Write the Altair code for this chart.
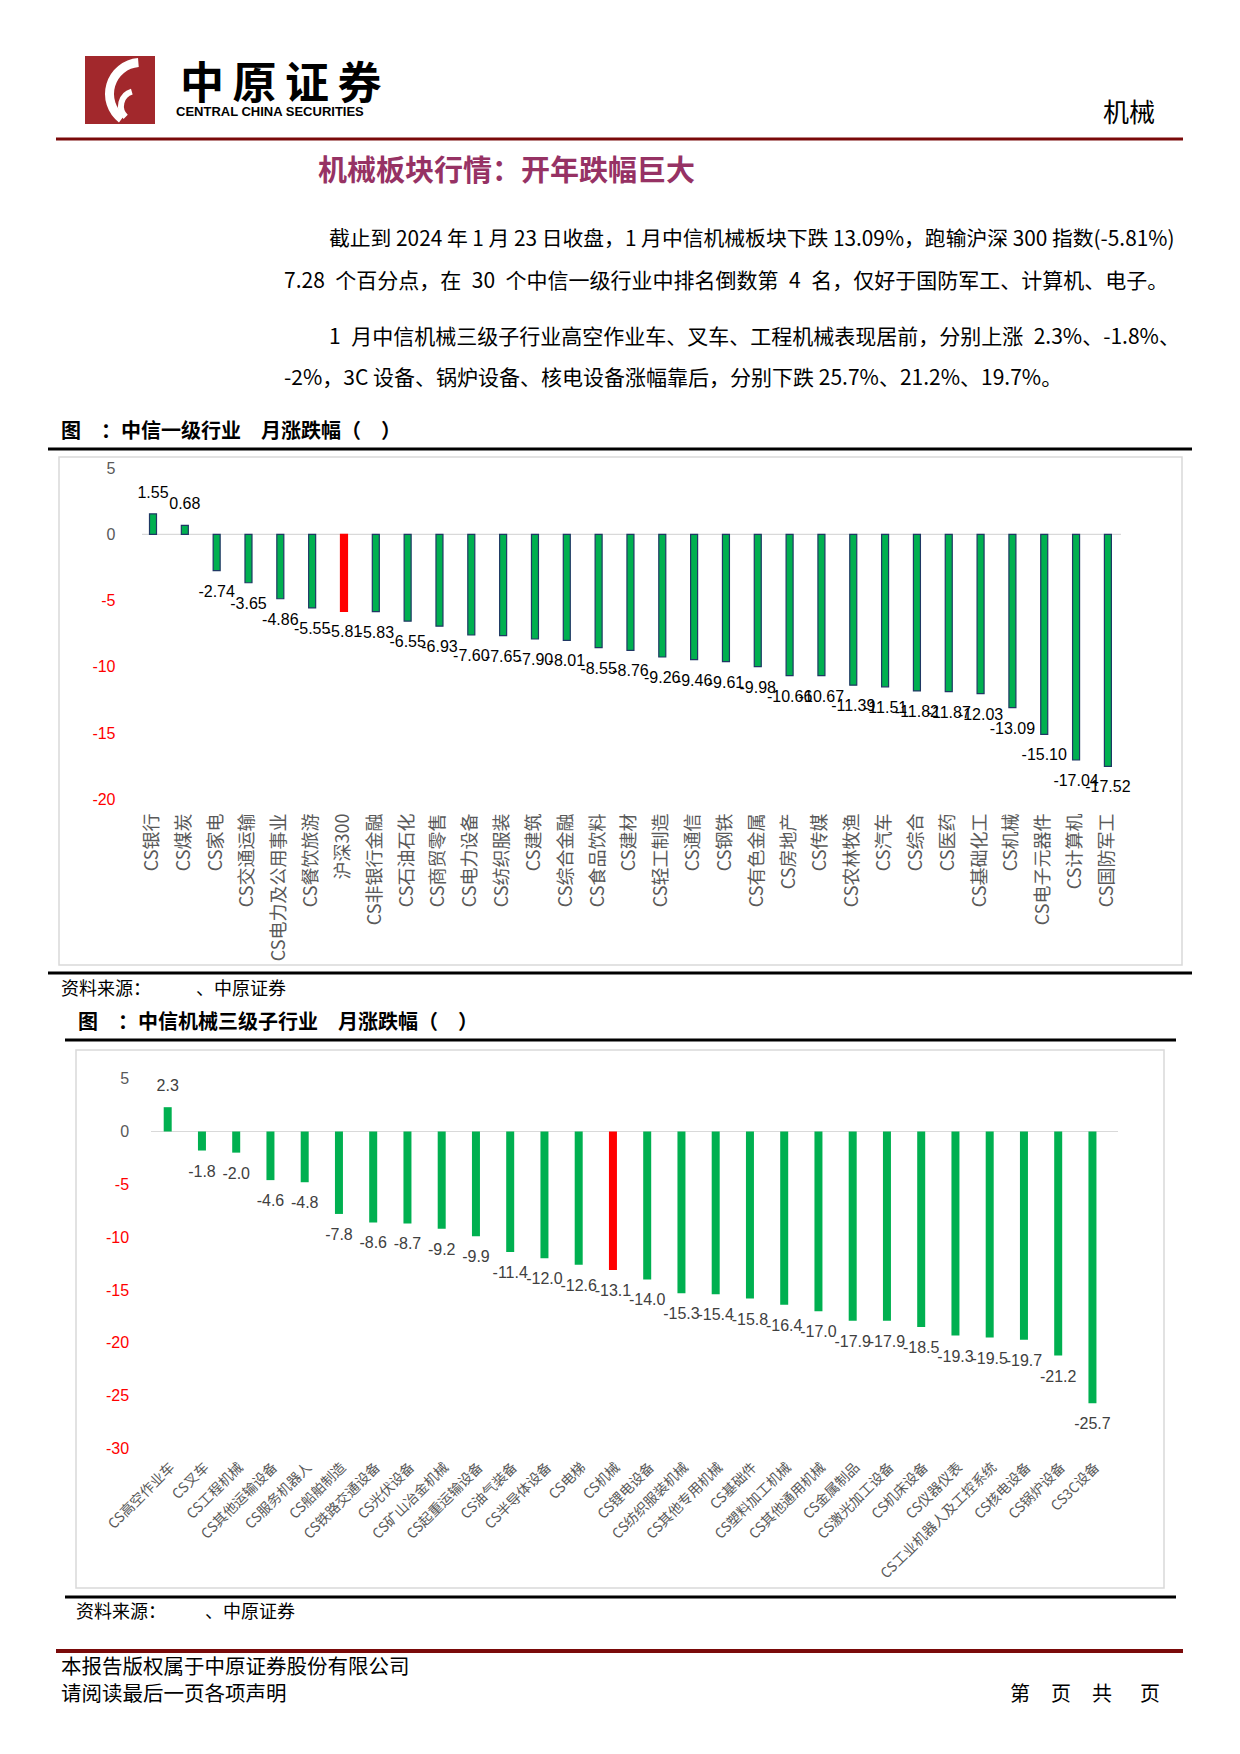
import altair as alt
import pandas as pd

# ---------------- data ----------------
cats1 = ["CS银行", "CS煤炭", "CS家电", "CS交通运输", "CS电力及公用事业", "CS餐饮旅游", "沪深300",
         "CS非银行金融", "CS石油石化", "CS商贸零售", "CS电力设备", "CS纺织服装", "CS建筑", "CS综合金融",
         "CS食品饮料", "CS建材", "CS轻工制造", "CS通信", "CS钢铁", "CS有色金属", "CS房地产", "CS传媒",
         "CS农林牧渔", "CS汽车", "CS综合", "CS医药", "CS基础化工", "CS机械", "CS电子元器件", "CS计算机",
         "CS国防军工"]
vals1 = [1.55, 0.68, -2.74, -3.65, -4.86, -5.55, -5.81, -5.83, -6.55, -6.93, -7.60, -7.65, -7.90, -8.01,
         -8.55, -8.76, -9.26, -9.46, -9.61, -9.98, -10.66, -10.67, -11.39, -11.51, -11.82, -11.87, -12.03,
         -13.09, -15.10, -17.04, -17.52]
hl1 = "沪深300"
ticks1 = [5, 0, -5, -10, -15, -20]

cats2 = ["CS高空作业车", "CS叉车", "CS工程机械", "CS其他运输设备", "CS服务机器人", "CS船舶制造", "CS铁路交通设备",
         "CS光伏设备", "CS矿山冶金机械", "CS起重运输设备", "CS油气装备", "CS半导体设备", "CS电梯", "CS机械",
         "CS锂电设备", "CS纺织服装机械", "CS其他专用机械", "CS基础件", "CS塑料加工机械", "CS其他通用机械",
         "CS金属制品", "CS激光加工设备", "CS机床设备", "CS仪器仪表", "CS工业机器人及工控系统", "CS核电设备",
         "CS锅炉设备", "CS3C设备"]
vals2 = [2.3, -1.8, -2.0, -4.6, -4.8, -7.8, -8.6, -8.7, -9.2, -9.9, -11.4, -12.0, -12.6, -13.1, -14.0,
         -15.3, -15.4, -15.8, -16.4, -17.0, -17.9, -17.9, -18.5, -19.3, -19.5, -19.7, -21.2, -25.7]
hl2 = "CS机械"
ticks2 = [5, 0, -5, -10, -15, -20, -25, -30]

# ---------------- page texts ----------------
logo_chars = ["中", "原", "证", "券"]
logo_en = "CENTRAL CHINA SECURITIES"
header_right = "机械"
title_text = "机械板块行情：开年跌幅巨大"
para_lines = [
    "截止到 2024 年 1 月 23 日收盘，1 月中信机械板块下跌 13.09%，跑输沪深 300 指数(-5.81%)",
    "7.28 个百分点，在 30 个中信一级行业中排名倒数第 4 名，仅好于国防军工、计算机、电子。",
    "1 月中信机械三级子行业高空作业车、叉车、工程机械表现居前，分别上涨 2.3%、-1.8%、",
    "-2%，3C 设备、锅炉设备、核电设备涨幅靠后，分别下跌 25.7%、21.2%、19.7%。",
]
caption1 = "图　：中信一级行业　月涨跌幅（　）"
caption2 = "图　：中信机械三级子行业　月涨跌幅（　）"
source_a = "资料来源："
source_b = "、中原证券"
footer1 = "本报告版权属于中原证券股份有限公司"
footer2 = "请阅读最后一页各项声明"
page_chars = ["第", "页", "共", "页"]

CJK = "Noto Sans CJK SC"
LAT = "Liberation Sans"
W = 1224
ONE = pd.DataFrame({"k": [0]})


def txt(x, y, s, size, color="#000000", font=CJK, weight="normal", align="left", baseline="middle"):
    return alt.Chart(ONE).mark_text(text=s, fontSize=size, font=font, fontWeight=weight, color=color,
                                    align=align, baseline=baseline).encode(x=alt.value(x), y=alt.value(y))


def hrule(x1, x2, y, w, color):
    return alt.Chart(ONE).mark_rule(color=color, strokeWidth=w).encode(
        x=alt.value(x1), x2=alt.value(x2), y=alt.value(y))


def box(x1, y1, x2, y2, color="#d9d9d9", w=1.5):
    return alt.Chart(ONE).mark_rect(filled=False, stroke=color, strokeWidth=w).encode(
        x=alt.value(x1), x2=alt.value(x2), y=alt.value(y1), y2=alt.value(y2))


# justified-looking paragraph lines: widen the gaps of the justified lines
para_render = [
    para_lines[0],
    para_lines[1].replace(" ", "\u2002"),
    para_lines[2].replace(" ", "\u2002"),
    para_lines[3],
]
para_sizes = [20.8, 21, 21, 21]

# ---------------- panel A: header ----------------
hA = 444
layersA = [
    alt.Chart(ONE).mark_rect(color="#a2282c").encode(
        x=alt.value(77), x2=alt.value(147), y=alt.value(48), y2=alt.value(116)),
    alt.Chart(ONE).mark_arc(radius=36, radius2=27, theta=3.8, theta2=6.2, color="white").encode(
        x=alt.value(133), y=alt.value(86)),
    alt.Chart(ONE).mark_arc(radius=18, radius2=12, theta=3.9, theta2=6.0, color="white").encode(
        x=alt.value(128), y=alt.value(98)),
]
for i, ch in enumerate(logo_chars):
    layersA.append(txt(194 + i * 52.5, 78, ch, 44, weight="bold", align="center"))
layersA += [
    txt(168, 104, logo_en, 13, font=LAT, weight="bold"),
    txt(1121, 106, header_right, 26, align="center"),
    hrule(48, 1175, 131, 3, "#7a0a0a"),
    txt(310, 164, title_text, 29, color="#963264", weight="bold"),
    txt(321, 232, para_render[0], para_sizes[0]),
    txt(276, 274, para_render[1], para_sizes[1]),
    txt(321, 330, para_render[2], para_sizes[2]),
    txt(276, 371, para_render[3], para_sizes[3]),
    txt(53, 424, caption1, 20, weight="bold"),
    hrule(40, 1184, 441, 3, "#000000"),
]
pA = alt.layer(*layersA).properties(width=W, height=hA)


# ---------------- bar panel builder ----------------
def bar_panel(cats, vals, hl, ticks, dec, h, y0, ppu, first_c, step, yax_off, xax_off, xangle,
              xalign, xbaseline, xfs, xpad, label_color, bar_stroke, box_xy, zero_x):
    df = pd.DataFrame({"cat": cats, "v": vals})
    df["kind"] = ["hl" if c == hl else "n" for c in cats]
    df["lab"] = [f"{v:.{dec}f}" for v in vals]
    n = len(cats)
    x_start = first_c - step / 2
    x_stop = x_start + n * step
    dmax = y0 / ppu
    dmin = -(h - y0) / ppu
    X = alt.X("cat:N", sort=cats, title=None,
              scale=alt.Scale(paddingInner=0, paddingOuter=0, range=[x_start, x_stop]),
              axis=alt.Axis(labelAngle=xangle, labelAlign=xalign, labelBaseline=xbaseline,
                            labelFont=CJK, labelFontSize=xfs, labelColor="#595959",
                            domain=False, ticks=False, tickSize=0, labelPadding=xpad,
                            offset=xax_off, labelOverlap=False, labelLimit=400))
    Y = alt.Y("v:Q", title=None,
              scale=alt.Scale(domain=[dmin, dmax], nice=False, zero=False),
              axis=alt.Axis(values=ticks, labelExpr="'' + datum.value",
                            labelColor={"condition": {"test": "datum.value < 0", "value": "#ff0000"},
                                        "value": "#595959"},
                            labelFont=LAT, labelFontSize=16, domain=False, ticks=False, tickSize=0,
                            grid=False, offset=yax_off, labelPadding=4))
    bx = box(*box_xy)
    zero = alt.Chart(pd.DataFrame({"v": [0]})).mark_rule(color="#d9d9d9", strokeWidth=1.2).encode(
        x=alt.value(zero_x[0]), x2=alt.value(zero_x[1]), y=Y)
    if bar_stroke:
        bars = alt.Chart(df).mark_bar(size=7, strokeWidth=1.2).encode(
            x=X, y=Y,
            color=alt.Color("kind:N", scale=alt.Scale(domain=["n", "hl"], range=["#00b050", "#ff0000"]),
                            legend=None),
            stroke=alt.Stroke("kind:N", scale=alt.Scale(domain=["n", "hl"], range=[bar_stroke, "#ff0000"]),
                              legend=None))
    else:
        bars = alt.Chart(df).mark_bar(size=8).encode(
            x=X, y=Y,
            color=alt.Color("kind:N", scale=alt.Scale(domain=["n", "hl"], range=["#00b050", "#ff0000"]),
                            legend=None))
    tpos = alt.Chart(df).transform_filter("datum.v >= 0").mark_text(
        font=LAT, fontSize=16, color=label_color, dy=-21, baseline="middle").encode(x=X, y=Y, text="lab:N")
    tneg = alt.Chart(df).transform_filter("datum.v < 0").mark_text(
        font=LAT, fontSize=16, color=label_color, dy=21, baseline="middle").encode(x=X, y=Y, text="lab:N")
    return alt.layer(bx, zero, bars, tpos, tneg).properties(width=W, height=h)


# panel B: chart 1 (ref y 452..969)
hB = 517
pB = bar_panel(cats1, vals1, hl1, ticks1, 2, hB, y0=82.4, ppu=13.24, first_c=145, step=31.83,
               yax_off=-111, xax_off=-(hB - 357), xangle=270, xalign="right", xbaseline="middle",
               xfs=18, xpad=4, label_color="#000000", bar_stroke="#1f3864",
               box_xy=(51, 5, 1174, 513), zero_x=(134, 1113))

# panel C: source + caption 2 (ref y 969..1049)
hC = 80
pC = alt.layer(
    hrule(40, 1184, 4, 3, "#000000"),
    txt(53, 21, source_a, 18),
    txt(188, 21, source_b, 18),
    txt(70, 54, caption2, 20, weight="bold"),
    hrule(57, 1168, 71, 3, "#000000"),
).properties(width=W, height=hC)

# panel D: chart 2 (ref y 1049..1592)
hD = 543
pD = bar_panel(cats2, vals2, hl2, ticks2, 1, hD, y0=82.5, ppu=10.57, first_c=159.7, step=34.25,
               yax_off=-124.6, xax_off=-(hD - 409), xangle=315, xalign="right", xbaseline="top",
               xfs=14, xpad=2, label_color="#404040", bar_stroke=None,
               box_xy=(68, 1, 1156, 539), zero_x=(143, 1110))

# panel E: footer (ref y 1592..1746)
hE = 154
layersE = [
    hrule(57, 1168, 5, 3, "#000000"),
    txt(68, 21, source_a, 18),
    txt(197, 21, source_b, 18),
    hrule(48, 1175, 59, 4, "#7a0a0a"),
    txt(53, 76, footer1, 20.5),
    txt(53, 103, footer2, 20.5),
]
for xp, ch in zip([1002, 1043, 1084, 1132], page_chars):
    layersE.append(txt(xp, 103, ch, 20))
pE = alt.layer(*layersE).properties(width=W, height=hE)

chart = alt.vconcat(pA, pB, pC, pD, pE, spacing=0).configure_view(strokeWidth=0).properties(
    padding=0, background="white")

chart.save("out.html", embed_options={"renderer": "svg", "actions": False})
